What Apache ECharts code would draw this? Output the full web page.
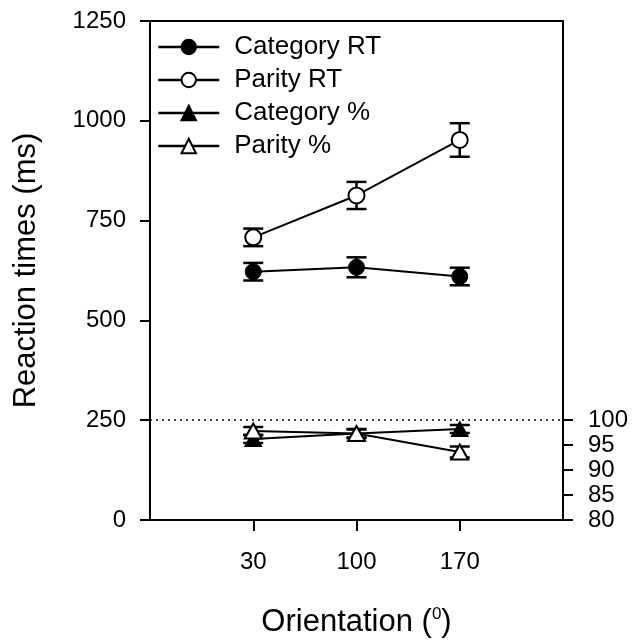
<!DOCTYPE html>
<html>
<head>
<meta charset="utf-8">
<script src="https://cdn.jsdelivr.net/npm/echarts@6/dist/echarts.min.js"></script>
<style>
  html, body { margin: 0; padding: 0; background: #fff; }
  #chart { width: 632px; height: 640px; }
</style>
</head>
<body>
<div id="chart"></div>
<script>
// Orientation conditions (degrees)
const orientations = [30, 100, 170];

// Reaction times (ms), mean and error
const categoryRT = [622, 633, 610];
const categoryRTErr = [22, 25, 22];
const parityRT = [708, 813, 952];
const parityRTErr = [22, 34, 42];

// Accuracy (%), mean and error
const categoryPct = [96.2, 97.3, 98.2];
const categoryPctErr = [0.8, 0.8, 0.8];
const parityPct = [97.8, 97.3, 93.6];
const parityPctErr = [0.8, 0.9, 1.1];

// Axis ticks
const rtTicks = [0, 250, 500, 750, 1000, 1250];
const pctTicks = [80, 85, 90, 95, 100];
const ceilingRT = 250; // dotted reference line, level with 100 %

const FONT = '"Liberation Sans", Arial, Helvetica, sans-serif';

function pairs(xs, ys, es) {
  return xs.map((x, i) => es ? [x, ys[i], es[i]] : [x, ys[i]]);
}

function errorBars(api) {
  const x = api.value(0), y = api.value(1), e = api.value(2);
  const hi = api.coord([x, y + e]);
  const lo = api.coord([x, y - e]);
  const half = 10;
  const style = { stroke: '#000', lineWidth: 2.5 };
  return {
    type: 'group',
    children: [
      { type: 'line', shape: { x1: hi[0], y1: hi[1], x2: lo[0], y2: lo[1] }, style },
      { type: 'line', shape: { x1: hi[0] - half, y1: hi[1], x2: hi[0] + half, y2: hi[1] }, style },
      { type: 'line', shape: { x1: lo[0] - half, y1: lo[1], x2: lo[0] + half, y2: lo[1] }, style }
    ]
  };
}

const filled = { color: '#000', borderColor: '#000', borderWidth: 1 };
const hollow = { color: '#fff', borderColor: '#000', borderWidth: 2 };
const line = { color: '#000', width: 2 };
const plain = v => String(v);

const xCommon = { type: 'value', min: -40, max: 240 };

const chart = echarts.init(document.getElementById('chart'), null, { renderer: 'canvas' });

chart.setOption({
  animation: false,
  backgroundColor: '#fff',
  textStyle: { fontFamily: FONT, color: '#000' },
  grid: [
    { left: 150, right: 69, top: 21, bottom: 120, outerBoundsMode: 'none', containLabel: false,
      show: true, borderColor: '#000', borderWidth: 2, backgroundColor: 'transparent' },
    { left: 150, right: 69, top: 420, bottom: 120, outerBoundsMode: 'none', containLabel: false }
  ],
  legend: {
    data: ['Category RT', 'Parity RT', 'Category %', 'Parity %'],
    orient: 'vertical',
    left: 157, top: 34,
    padding: 0,
    itemWidth: 61, itemHeight: 18, itemGap: 7,
    lineStyle: { color: '#000', width: 2.5 },
    textStyle: { fontFamily: FONT, fontSize: 26, color: '#000', lineHeight: 26, padding: [0, 0, 0, 10] }
  },
  xAxis: [
    Object.assign({}, xCommon, {
      gridIndex: 0,
      name: 'Orientation ({sup|0})',
      nameLocation: 'middle',
      nameGap: 86,
      nameTextStyle: {
        fontFamily: FONT, fontSize: 31, color: '#000',
        rich: { sup: { fontFamily: FONT, fontSize: 17, color: '#000', padding: [0, 0, 16, 0] } }
      },
      axisLine: { show: true, onZero: false, lineStyle: { color: '#000', width: 2 } },
      axisTick: { show: true, inside: false, length: 11, lineStyle: { color: '#000', width: 2 }, customValues: orientations },
      axisLabel: { fontFamily: FONT, fontSize: 24, color: '#000', margin: 30, customValues: orientations, formatter: plain },
      splitLine: { show: false }
    }),
    Object.assign({}, xCommon, { gridIndex: 1, show: false, splitLine: { show: false }, axisLine: { onZero: false } })
  ],
  yAxis: [
    {
      type: 'value', gridIndex: 0, min: 0, max: 1250, interval: 250,
      name: 'Reaction times (ms)',
      nameLocation: 'middle', nameGap: 108, nameRotate: 90,
      nameTextStyle: { fontFamily: FONT, fontSize: 31, color: '#000' },
      axisLine: { show: true, onZero: false, lineStyle: { color: '#000', width: 2 } },
      axisTick: { show: true, length: 10, lineStyle: { color: '#000', width: 2 }, customValues: rtTicks },
      axisLabel: { fontFamily: FONT, fontSize: 24, color: '#000', margin: 24, customValues: rtTicks, formatter: plain },
      splitLine: { show: false }
    },
    {
      type: 'value', gridIndex: 1, position: 'right', min: 80, max: 100, interval: 5,
      axisLine: { show: true, onZero: false, lineStyle: { color: '#000', width: 2 } },
      axisTick: { show: true, length: 10, lineStyle: { color: '#000', width: 2 }, customValues: pctTicks },
      axisLabel: { fontFamily: FONT, fontSize: 24, color: '#000', margin: 25, customValues: pctTicks, formatter: plain },
      splitLine: { show: false }
    }
  ],
  series: [
    // error bars (drawn beneath the markers)
    { type: 'custom', xAxisIndex: 0, yAxisIndex: 0, z: 1, silent: true, clip: false,
      renderItem: (p, api) => errorBars(api), data: pairs(orientations, categoryRT, categoryRTErr) },
    { type: 'custom', xAxisIndex: 0, yAxisIndex: 0, z: 1, silent: true, clip: false,
      renderItem: (p, api) => errorBars(api), data: pairs(orientations, parityRT, parityRTErr) },
    { type: 'custom', xAxisIndex: 1, yAxisIndex: 1, z: 1, silent: true, clip: false,
      renderItem: (p, api) => errorBars(api), data: pairs(orientations, categoryPct, categoryPctErr) },
    { type: 'custom', xAxisIndex: 1, yAxisIndex: 1, z: 1, silent: true, clip: false,
      renderItem: (p, api) => errorBars(api), data: pairs(orientations, parityPct, parityPctErr) },

    {
      name: 'Category RT', type: 'line', xAxisIndex: 0, yAxisIndex: 0, z: 3,
      symbol: 'circle', symbolSize: 16, lineStyle: line, itemStyle: filled,
      data: pairs(orientations, categoryRT),
      markLine: {
        silent: true, symbol: 'none', label: { show: false },
        lineStyle: { color: '#000', type: [2, 4], width: 1.5 },
        data: [{ yAxis: ceilingRT }]
      }
    },
    {
      name: 'Parity RT', type: 'line', xAxisIndex: 0, yAxisIndex: 0, z: 3,
      symbol: 'circle', symbolSize: 16, lineStyle: line, itemStyle: hollow,
      data: pairs(orientations, parityRT)
    },
    {
      name: 'Category %', type: 'line', xAxisIndex: 1, yAxisIndex: 1, z: 3, clip: false,
      symbol: 'triangle', symbolSize: [17, 15], lineStyle: line, itemStyle: filled,
      data: pairs(orientations, categoryPct)
    },
    {
      name: 'Parity %', type: 'line', xAxisIndex: 1, yAxisIndex: 1, z: 4, clip: false,
      symbol: 'triangle', symbolSize: [17, 15], lineStyle: line, itemStyle: hollow,
      data: pairs(orientations, parityPct)
    }
  ]
});
</script>
</body>
</html>
